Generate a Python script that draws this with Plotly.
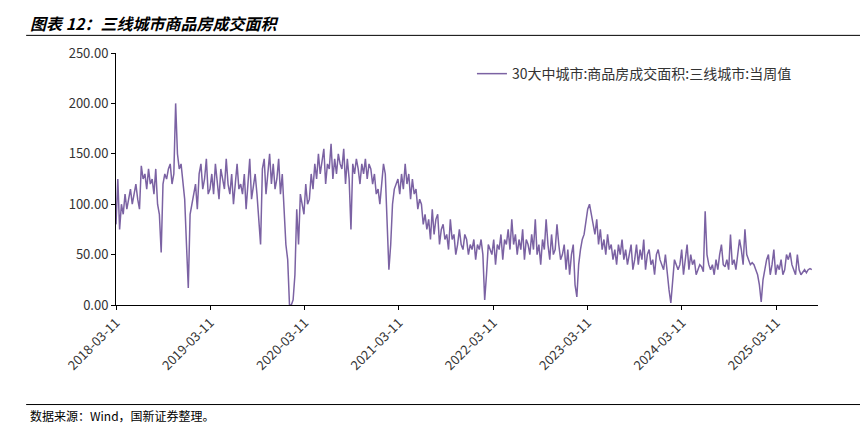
import plotly.graph_objects as go
import pandas as pd

start_date = "2018-03-11"
y1 = [80,125,75,100,90,110,95,105,115,100,110,120,105,95,138,125,130,115,135,120,125,110,135,100,90,52,120,130,125,135,140,120,130,200,150,135,140,125,105,60,17,90,100,110,120,95,130,140,115,125,145,110]
y2 = [115,130,110,140,120,105,135,125,115,145,120,110,130,100,125,140,115,120,110,130,95,125,145,105,120,130,110,85,60,135,145,110,130,150,120,140,115,125,145,110,130,100,60,45,0,0,5,30,95,60,110,100]
y3 = [90,120,100,105,130,115,140,125,150,130,145,155,120,140,135,160,125,145,130,150,140,135,155,120,145,125,75,140,130,145,135,120,140,130,145,125,140,135,120,130,110,115,100,120,140,130,90,35,60,100,115,120]
y4 = [125,110,130,115,140,120,130,105,125,110,115,95,105,100,80,90,75,85,65,95,70,85,90,60,75,80,65,70,55,85,65,70,50,60,75,60,55,70,65,50,60,55,65,45,60,55,65,50,5,30,60,55]
y5 = [50,65,40,60,55,70,45,65,60,75,55,85,60,70,50,65,55,75,45,65,60,50,70,55,85,50,60,40,65,55,85,60,45,70,50,55,80,60,45,50,60,35,55,30,50,60,20,8,40,55,65,70]
y6 = [85,95,100,90,80,70,85,60,75,55,65,50,70,55,60,45,55,40,60,50,65,45,55,40,50,60,35,45,60,40,55,45,65,35,50,55,40,45,30,50,55,45,40,35,50,30,15,2,25,45,40,35]
y7 = [40,55,30,45,60,35,50,40,45,30,35,40,38,33,93,50,40,35,40,30,45,35,50,60,40,38,45,35,70,40,45,35,50,65,55,40,75,50,45,40,42,40,35,30,20,3,25,35,45,50,30,40]
y8 = [55,30,40,35,45,30,35,50,45,52,40,35,30,50,35,30,33,35,32,35,36,35]
values = y1+y2+y3+y4+y5+y6+y7+y8
dates = pd.date_range(start_date, periods=len(values), freq="7D")
tick_vals = ["2018-03-11","2019-03-11","2020-03-11","2021-03-11","2022-03-11","2023-03-11","2024-03-11","2025-03-11"]
y_ticks = [0,50,100,150,200,250]

fig = go.Figure(go.Scatter(x=dates, y=values, mode="lines", line=dict(color="#7B62A3", width=1.5),
                           name="30大中城市:商品房成交面积:三线城市:当周值"))
fig.update_layout(
    width=868, height=425, paper_bgcolor="white", plot_bgcolor="white",
    margin=dict(l=108, r=58, t=45, b=128, autoexpand=False),
    font=dict(family="Noto Sans CJK SC", size=13, color="#333"),
    showlegend=True,
    legend=dict(x=0.97, y=0.98, xanchor="right", yanchor="top", bgcolor="rgba(0,0,0,0)", font=dict(size=14)),
)
fig.update_xaxes(range=["2018-03-11","2025-08-20"], tickvals=tick_vals, ticktext=tick_vals, tickangle=-45,
                 showgrid=False, showline=True, linecolor="black", ticks="outside", ticklen=4, tickcolor="black")
fig.update_yaxes(range=[0,250], tickvals=y_ticks, tickformat=".2f", showgrid=False, showline=True,
                 linecolor="black", ticks="outside", ticklen=4, tickcolor="black", zeroline=False)
fig.add_annotation(text="<b><i>图表 12：三线城市商品房成交面积</i></b>", xref="paper", yref="paper",
                   x=-0.125, y=1.12, xanchor="left", yanchor="middle", showarrow=False,
                   font=dict(size=16, color="black"))
fig.add_shape(type="line", xref="paper", yref="paper", x0=-0.128, x1=1.075, y0=1.07, y1=1.07,
              line=dict(color="black", width=1))
fig.add_shape(type="line", xref="paper", yref="paper", x0=-0.128, x1=1.075, y0=-0.395, y1=-0.395,
              line=dict(color="black", width=1))
fig.add_annotation(text="数据来源：Wind，国新证券整理。", xref="paper", yref="paper", x=-0.125, y=-0.44,
                   xanchor="left", yanchor="middle", showarrow=False, font=dict(size=12, color="black"))
fig.write_html("out.html")
